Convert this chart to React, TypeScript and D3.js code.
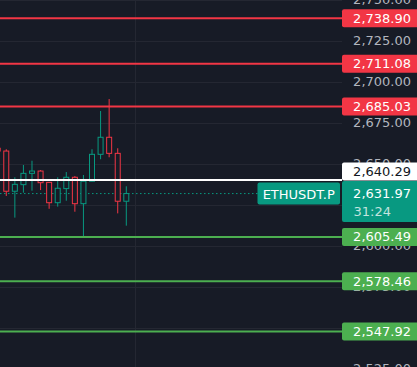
import * as d3 from 'd3';

const W = 417;
const H = 367;
const AXIS_X = 342;

// candles, oldest first (last one is the live bar)
const opens = [2659.6, 2657.9, 2633.4, 2637.4, 2644.3, 2645.7, 2638.8, 2626.4, 2635.0, 2641.9, 2625.8, 2639.5, 2655.9, 2666.3, 2656.5, 2627.3];
const highs = [2660.2, 2659.0, 2641.9, 2649.4, 2652.0, 2646.3, 2639.0, 2641.9, 2645.1, 2642.7, 2643.3, 2659.0, 2682.3, 2689.6, 2659.6, 2636.4];
const lows = [2657.5, 2630.5, 2617.3, 2632.5, 2633.7, 2634.1, 2622.7, 2624.0, 2627.6, 2620.9, 2605.7, 2639.5, 2652.9, 2654.1, 2619.9, 2612.4];
const closes = [2657.9, 2633.4, 2637.6, 2644.3, 2645.7, 2638.6, 2626.4, 2635.2, 2641.9, 2625.8, 2639.5, 2655.9, 2666.3, 2656.5, 2627.3, 2631.97];

const priceTicks = [2750, 2725, 2700, 2675, 2650, 2625, 2600, 2575, 2550, 2525];
const timeGrid = [16];

const resistance = [2738.90, 2711.08, 2685.03];
const support = [2605.49, 2578.46, 2547.92];
const markPrice = 2640.29;
const lastPrice = 2631.97;
const symbol = 'ETHUSDT.P';
const countdown = '31:24';

const BG = '#171B26';
const GRID = '#242732';
const TEXT = '#B2B5BE';
const RED = '#F23645';
const GREEN = '#4CAF50';
const TEAL = '#089981';
const FONT = '"DejaVu Sans", sans-serif';

const fmt = d3.format(',.2f');

export default function App() {
  const y = d3.scaleLinear().domain([2750, 2525]).range([0, 369]);
  const x = d3.scaleLinear().domain([0, 15]).range([-2.3, 126.3]);
  const bodyW = 5;

  const tag = (p: number, fill: string, color: string, key: string, shift = 0) => {
    const cy = y(p) + shift;
    return (
      <g key={key}>
        <rect x={AXIS_X} y={cy - 9} width={W - AXIS_X + 4} height={18} rx={2} fill={fill} />
        <text x={411} y={cy + 4.5} textAnchor="end" fill={color} fontSize={13} fontFamily={FONT}>
          {fmt(p)}
        </text>
      </g>
    );
  };

  const yLast = y(lastPrice);

  return (
    <svg width={W} height={H} style={{ position: 'absolute', left: 0, top: 0, display: 'block' }}>
      <rect width={W} height={H} fill={BG} />

      {priceTicks.map(t => (
        <line key={t} x1={0} x2={AXIS_X} y1={Math.round(y(t)) + 0.5} y2={Math.round(y(t)) + 0.5} stroke={GRID} />
      ))}
      {timeGrid.map(i => (
        <line key={i} x1={Math.round(x(i)) + 0.5} x2={Math.round(x(i)) + 0.5} y1={0} y2={H} stroke={GRID} />
      ))}

      {/* last price dotted line */}
      <line x1={0} x2={258} y1={yLast} y2={yLast} stroke={TEAL} strokeDasharray="1.5 2.5" />

      {opens.map((o, i) => {
        const c = closes[i];
        const up = c >= o;
        const col = up ? TEAL : RED;
        const cx = x(i);
        const top = y(Math.max(o, c));
        const bot = y(Math.min(o, c));
        return (
          <g key={i}>
            <line x1={cx} x2={cx} y1={y(highs[i])} y2={y(lows[i])} stroke={col} />
            <rect
              x={cx - bodyW / 2}
              y={top}
              width={bodyW}
              height={Math.max(1, bot - top)}
              fill={BG}
              stroke={col}
            />
          </g>
        );
      })}

      {resistance.map(p => (
        <line key={p} x1={0} x2={AXIS_X} y1={y(p)} y2={y(p)} stroke={RED} strokeWidth={2} />
      ))}
      {support.map(p => (
        <line key={p} x1={0} x2={AXIS_X} y1={y(p)} y2={y(p)} stroke={GREEN} strokeWidth={2} />
      ))}
      <line x1={0} x2={AXIS_X} y1={y(markPrice)} y2={y(markPrice)} stroke="#FFFFFF" strokeWidth={2} />

      {priceTicks.map(t => (
        <text key={t} x={411} y={y(t) + 4} textAnchor="end" fill={TEXT} fontSize={13} fontFamily={FONT}>
          {fmt(t)}
        </text>
      ))}

      {resistance.map(p => tag(p, RED, '#FFFFFF', 'r' + p))}
      {support.map(p => tag(p, GREEN, '#FFFFFF', 's' + p))}
      {tag(markPrice, '#FFFFFF', '#131722', 'mark', -8.5)}

      {/* live price tag with countdown */}
      <rect x={AXIS_X} y={yLast - 12.5} width={W - AXIS_X + 4} height={41} rx={2} fill={TEAL} />
      <text x={411} y={yLast + 4.5} textAnchor="end" fill="#FFFFFF" fontSize={13} fontFamily={FONT}>
        {fmt(lastPrice)}
      </text>
      <text x={353.5} y={yLast + 22.5} fill="#FFFFFF" fillOpacity={0.75} fontSize={13} fontFamily={FONT}>
        {countdown}
      </text>

      <rect x={257.5} y={yLast - 11} width={82.5} height={22} rx={2} fill={TEAL} />
      <text x={298.7} y={yLast + 5.5} textAnchor="middle" fill="#FFFFFF" fontSize={13} fontFamily={FONT}>
        {symbol}
      </text>
    </svg>
  );
}
